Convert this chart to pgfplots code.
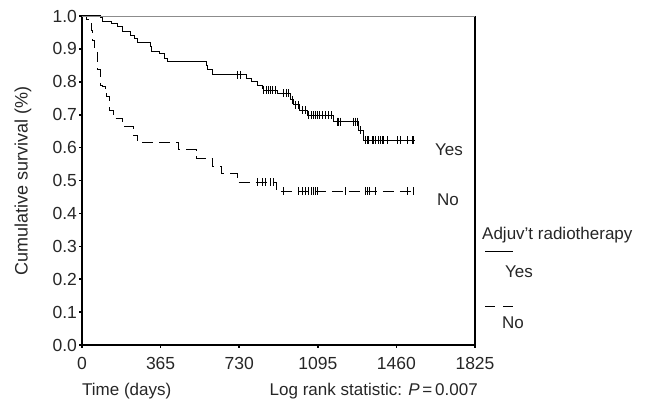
\documentclass[border=0pt]{standalone}
\usepackage{fontspec}
\setmainfont{Liberation Sans}
\usepackage{pgfplots}
\pgfplotsset{compat=1.18}
\begin{document}
\begin{tikzpicture}
\useasboundingbox (-82pt,-57pt) rectangle (577pt,345pt);
\begin{axis}[
  at={(0pt,0pt)}, anchor=south west,
  scale only axis, width=393pt, height=329pt,
  xmin=0, xmax=1825, ymin=0, ymax=1,
  xtick={0,365,730,1095,1460,1825},
  xticklabels={0,365,730,1095,1460,1825},
  ytick={0,0.1,0.2,0.3,0.4,0.5,0.6,0.7,0.8,0.9,1.0},
  yticklabels={0.0,0.1,0.2,0.3,0.4,0.5,0.6,0.7,0.8,0.9,1.0},
  axis x line*=bottom, axis y line*=left,
  axis line style={line width=1.2pt, black},
  tick align=outside, major tick length=2.5pt,
  tick style={line width=1.6pt, black},
  ticklabel style={font=\fontsize{17.5}{20}\selectfont, text=black!85},
  xticklabel style={yshift=-6pt},
  yticklabel style={xshift=1pt},
  clip=false,
]
% Yes (solid)
\addplot[const plot, black, line width=1pt] coordinates {
  (0,1.0) (84,0.994) (97,0.983) (139,0.978) (167,0.968) (190,0.953)
  (223,0.942) (246,0.932) (260,0.919) (316,0.907) (325,0.891) (362,0.887)
  (385,0.871) (399,0.861) (580,0.851) (585,0.836) (608,0.821) (766,0.810)
  (789,0.800) (813,0.790) (836,0.780) (845,0.775) (910,0.765) (966,0.745)
  (980,0.730) (1012,0.714) (1045,0.699) (1166,0.679) (1282,0.653)
  (1305,0.623) (1546,0.623)
};
\addplot[only marks, mark=|, mark size=4pt, black, mark options={line width=0.8pt}] coordinates {
  (720,0.821) (734,0.821)
  (841,0.775) (855,0.775) (864,0.775) (873,0.775) (882,0.775) (896,0.775)
  (933,0.765) (947,0.765) (957,0.765)
  (975,0.745)
  (989,0.730) (1003,0.730)
  (1022,0.714) (1036,0.714)
  (1050,0.699) (1063,0.699) (1073,0.699) (1082,0.699) (1091,0.699)
  (1101,0.699) (1115,0.699) (1128,0.699) (1142,0.699) (1156,0.699)
  (1184,0.679) (1189,0.679) (1198,0.679) (1259,0.679) (1268,0.679) (1277,0.679)
  (1291,0.653)
  (1314,0.623) (1323,0.623) (1328,0.623) (1347,0.623) (1351,0.623)
  (1361,0.623) (1375,0.623) (1384,0.623) (1393,0.623) (1398,0.623)
  (1416,0.623) (1463,0.623) (1477,0.623) (1509,0.623) (1533,0.623) (1537,0.623)
};
% No (dashed)
\addplot[const plot, black, line width=1pt, dash pattern=on 11pt off 6pt] coordinates {
  (0,1.0) (23,0.988) (46,0.957) (51,0.927) (60,0.897) (70,0.872) (74,0.836)
  (84,0.790) (93,0.785) (107,0.780) (116,0.755) (130,0.714) (144,0.689)
  (190,0.663) (237,0.638) (260,0.615) (446,0.593) (534,0.567) (608,0.542)
  (650,0.520) (720,0.494) (901,0.468) (1546,0.468)
};
\addplot[only marks, mark=|, mark size=4pt, black, mark options={line width=0.8pt}] coordinates {
  (813,0.494) (836,0.494) (850,0.494) (873,0.494) (887,0.494)
  (933,0.468) (1003,0.468) (1022,0.468) (1036,0.468) (1050,0.468)
  (1063,0.468) (1073,0.468) (1082,0.468) (1091,0.468) (1221,0.468)
  (1314,0.468) (1323,0.468) (1333,0.468) (1361,0.468) (1509,0.468) (1537,0.468)
};
\draw[black, line width=1.2pt] (axis cs:1825,0) -- (axis cs:1825,1);
\draw[black!45, line width=0.8pt] (axis cs:0,1) -- (axis cs:1825,1);
\end{axis}
\begin{scope}[every node/.style={font=\fontsize{17}{20}\selectfont, text=black!85, inner sep=0pt}]
\node[rotate=90, font=\fontsize{18}{21}\selectfont] at (-59pt,164pt) {Cumulative survival (\%)};
\node[anchor=west] at (0pt,-46pt) {Time (days)};
\node[anchor=east] at (396pt,-46pt) {Log rank statistic: \textit{P}\,=\,0.007};
\node[anchor=west] at (353pt,195pt) {Yes};
\node[anchor=west] at (355pt,145pt) {No};
\node[anchor=west] at (400pt,110pt) {Adjuv’t radiotherapy};
\node[anchor=west] at (423pt,73pt) {Yes};
\node[anchor=west] at (420pt,22pt) {No};
\end{scope}
\draw[black, line width=1pt] (403pt,93pt) -- (431pt,93pt);
\draw[black, line width=1pt] (403pt,39pt) -- (413pt,39pt) (421pt,39pt) -- (431pt,39pt);
\end{tikzpicture}
\end{document}
